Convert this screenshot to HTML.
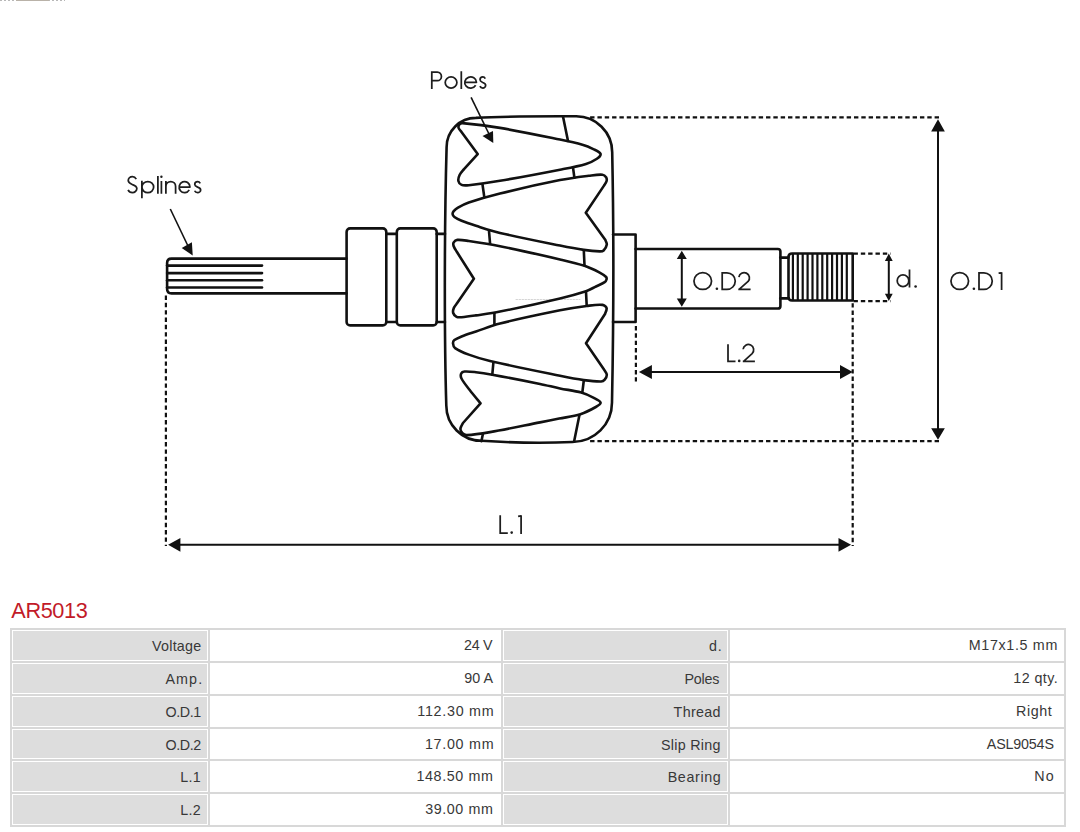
<!DOCTYPE html>
<html>
<head>
<meta charset="utf-8">
<style>
html,body{margin:0;padding:0;background:#fff;}
body{width:1080px;height:832px;position:relative;overflow:hidden;font-family:"Liberation Sans",sans-serif;}
#draw{position:absolute;left:0;top:0;}
#title{position:absolute;left:11.3px;top:596.8px;font-size:21.7px;line-height:28px;color:#c21a28;letter-spacing:-0.38px;}
#tbl{position:absolute;left:10px;top:628px;width:1056px;height:199px;background:#d8d8d8;}
.c{position:absolute;box-sizing:border-box;font-size:14.3px;color:#383838;text-align:right;white-space:pre;}
.l{background:#dddddd;border:1px solid #fff;}
.v{background:#fff;}
</style>
</head>
<body>
<svg id="draw" width="1080" height="600" viewBox="0 0 1080 600">
<g fill="none" stroke="#111" stroke-width="2.6" stroke-linejoin="round" stroke-linecap="round">
<path d="M346.5 258.6 H171.5 Q167.1 258.6 167.1 263 V289 Q167.1 293.4 171.5 293.4 H346.5"/>
<line x1="167.1" y1="265.6" x2="262" y2="265.6"/>
<line x1="167.1" y1="273.1" x2="262" y2="273.1"/>
<line x1="167.1" y1="280.3" x2="262" y2="280.3"/>
<line x1="167.1" y1="287.5" x2="262" y2="287.5"/>
<rect x="346.6" y="228.4" width="39.7" height="97" rx="3.5"/>
<rect x="396.8" y="228.4" width="39.9" height="97" rx="3.5"/>
<path d="M386.3 233.9 H396.8 M386.3 322 H396.8"/>
<path d="M436.7 233.9 H445 M436.7 322 H445"/>
<path d="M475.9 117.9 C500 116.5 550 116.2 576 116.3 A36 36 0 0 1 612.2 152.3 C613.4 210 614 300 612 402.5 A39.5 39.5 0 0 1 572.5 442 C545 443.3 515 443 481.6 440.8 A35.3 35.3 0 0 1 446.3 405.5 C444.3 340 444.3 230 446.6 147.2 A29.3 29.3 0 0 1 475.9 117.9 Z"/>
<path d="M516 299.5 H580" stroke="#d5d5d5" stroke-width="1" stroke-dasharray="1.5 1.5"/>
<path d="M613 234.5 H635.6 V322 H613"/>
<path d="M635.6 249 H777.8 Q780.4 249 780.4 251.6 V305.9 Q780.4 308.5 777.8 308.5 H635.6"/>
<path d="M780.2 257.6 H788.5 M780.2 298.4 H788.5"/>
<path d="M852.7 253.5 H792 Q788.5 253.5 788.5 257 V297 Q788.5 300.5 792 300.5 H852.7 Z"/>
</g>
<g stroke="#111" stroke-width="2.2">
<line x1="792.90" y1="254" x2="792.90" y2="300"/>
<line x1="797.80" y1="254" x2="797.80" y2="300"/>
<line x1="802.70" y1="254" x2="802.70" y2="300"/>
<line x1="807.60" y1="254" x2="807.60" y2="300"/>
<line x1="812.50" y1="254" x2="812.50" y2="300"/>
<line x1="817.40" y1="254" x2="817.40" y2="300"/>
<line x1="822.30" y1="254" x2="822.30" y2="300"/>
<line x1="827.20" y1="254" x2="827.20" y2="300"/>
<line x1="832.10" y1="254" x2="832.10" y2="300"/>
<line x1="837.00" y1="254" x2="837.00" y2="300"/>
<line x1="841.90" y1="254" x2="841.90" y2="300"/>
<line x1="846.80" y1="254" x2="846.80" y2="300"/>
</g>
<g fill="none" stroke="#111" stroke-width="2.6" stroke-linejoin="round" stroke-linecap="round">
<path d="M463.8 169.4 L477.7 154.1 L461.5 132 C461.02 131.33 459.00 129.45 458.60 128.00 C458.30 126.92 458.72 125.25 459.40 124.40 C460.02 123.62 461.39 123.00 462.50 123.10 C474.93 124.17 487.58 125.80 500.00 127.90 C520.08 131.30 540.04 135.51 560.00 139.60 C567.51 141.14 575.05 142.70 582.40 144.80 C586.15 145.87 589.82 147.37 593.30 149.10 C595.85 150.37 599.80 151.92 600.50 153.80 C601.00 155.15 598.54 157.66 596.90 158.80 C593.70 161.03 589.83 162.77 586.00 163.90 C577.53 166.40 568.71 167.99 560.00 169.70 C540.05 173.62 520.05 177.39 500.00 180.80 C489.65 182.56 479.22 184.09 468.80 185.20 C466.42 185.45 463.63 185.74 461.60 184.90 C460.16 184.30 458.71 182.42 458.40 180.90 C458.04 179.12 458.77 176.77 459.60 175.00 C460.57 172.94 463.10 170.33 463.80 169.40"/>
<path d="M604 185.6 L585.8 212.8 L605.4 240 C605.47 240.75 607.02 243.06 606.80 244.50 C606.49 246.56 605.09 249.05 603.60 250.50 C602.72 251.35 601.02 251.44 599.70 251.40 C594.42 251.24 589.06 250.67 583.80 249.90 C575.83 248.74 567.90 247.20 560.00 245.60 C539.97 241.54 519.89 237.59 500.00 232.90 C491.89 230.99 483.96 228.31 476.00 225.80 C471.16 224.27 466.29 222.71 461.60 220.80 C459.09 219.78 456.51 218.57 454.40 217.00 C453.51 216.34 452.72 215.11 452.60 214.10 C452.49 213.18 453.06 211.97 453.70 211.20 C454.86 209.80 456.39 208.53 458.00 207.60 C461.43 205.63 465.04 203.76 468.80 202.50 C479.04 199.06 489.49 196.08 500.00 193.50 C519.89 188.61 539.91 184.10 560.00 180.10 C569.51 178.20 579.18 177.02 588.80 175.80 C593.34 175.22 598.14 174.32 602.50 174.70 C603.91 174.82 605.36 176.16 606.10 177.30 C606.72 178.26 606.89 179.85 606.60 181.00 C606.19 182.62 604.43 184.83 604.00 185.60"/>
<path d="M473.9 278.7 L456.8 251.8 C456.27 250.83 454.27 248.03 453.60 246.00 C453.24 244.90 453.14 243.32 453.70 242.40 C454.38 241.28 455.92 240.03 457.30 239.90 C460.95 239.56 464.99 240.44 468.80 241.00 C479.23 242.54 489.67 244.12 500.00 246.20 C520.07 250.25 540.05 254.77 560.00 259.40 C568.22 261.31 576.52 263.15 584.50 265.80 C589.75 267.55 594.79 270.05 599.70 272.60 C601.99 273.79 604.39 275.27 606.10 277.00 C606.66 277.57 606.70 278.74 606.50 279.50 C606.24 280.47 605.58 281.62 604.70 282.20 C602.08 283.95 598.91 285.10 596.00 286.50 C592.68 288.10 589.49 290.05 586.00 291.20 C577.49 294.01 568.75 296.33 560.00 298.40 C540.08 303.13 520.06 307.54 500.00 311.60 C492.06 313.21 484.01 314.23 476.00 315.40 C471.21 316.10 466.41 316.83 461.60 317.20 C459.94 317.33 457.98 317.59 456.60 316.90 C455.18 316.19 453.67 314.50 453.20 313.00 C452.74 311.54 453.21 309.52 453.80 308.00 C454.47 306.29 456.47 304.08 457.00 303.30 L473.9 278.7"/>
<path d="M605 314 L586 343.3 L604 369.5 C604.47 370.38 606.68 373.00 606.80 374.80 C606.91 376.40 605.78 378.43 604.70 379.70 C603.88 380.66 602.41 381.47 601.10 381.50 C595.44 381.61 589.52 380.89 583.80 380.10 C575.82 378.99 567.90 377.41 560.00 375.80 C536.63 371.04 513.21 366.40 490.00 361.00 C482.81 359.33 475.71 357.15 468.80 354.60 C464.07 352.85 459.03 350.89 455.10 348.10 C453.77 347.15 453.14 344.97 453.00 343.40 C452.90 342.31 453.52 340.81 454.40 340.10 C456.38 338.51 459.11 337.49 461.60 336.50 C466.31 334.62 471.19 333.13 476.00 331.50 C483.99 328.80 491.83 325.56 500.00 323.50 C519.83 318.49 539.93 314.35 560.00 310.30 C568.83 308.52 577.77 307.14 586.70 306.00 C591.93 305.34 597.52 304.35 602.50 304.90 C604.15 305.08 606.21 306.78 606.60 308.20 C607.04 309.82 605.27 313.03 605.00 314.00"/>
<path d="M480.5 403.3 L463 423 C462.57 423.98 460.49 426.94 460.40 428.90 C460.33 430.38 461.41 432.24 462.50 433.30 C463.54 434.31 465.28 435.17 466.80 435.10 C474.44 434.77 482.32 433.43 490.00 432.10 C506.72 429.20 523.34 425.65 540.00 422.40 C546.40 421.15 552.81 419.90 559.20 418.60 C566.27 417.16 573.57 416.37 580.40 414.20 C585.77 412.50 590.92 409.78 595.80 407.00 C597.65 405.95 600.89 404.02 600.60 402.70 C600.22 400.99 596.25 399.18 593.80 397.90 C589.81 395.81 585.63 393.82 581.30 392.60 C574.37 390.65 567.08 389.89 560.00 388.40 C553.31 386.99 546.70 385.26 540.00 383.90 C524.13 380.69 508.23 377.61 492.30 374.70 C486.89 373.71 481.46 372.83 476.00 372.20 C472.19 371.76 468.20 371.18 464.50 371.50 C463.26 371.61 461.64 372.48 461.20 373.50 C460.64 374.82 460.76 377.06 461.50 378.50 C463.59 382.56 466.84 386.26 469.70 390.00 C473.17 394.53 478.70 401.08 480.50 403.30"/>
<line x1="563" y1="116.5" x2="568" y2="141"/>
<line x1="573" y1="167.5" x2="574.4" y2="177.6"/>
<line x1="482.5" y1="184.5" x2="484.3" y2="197.1"/>
<line x1="583.8" y1="250.3" x2="584.5" y2="265.4"/>
<line x1="489" y1="231.2" x2="490.1" y2="243.8"/>
<line x1="586" y1="291.6" x2="586.7" y2="305.6"/>
<line x1="494.4" y1="313.3" x2="494.4" y2="324.1"/>
<line x1="493.4" y1="362.5" x2="492.3" y2="374.7"/>
<line x1="583.8" y1="380.5" x2="582.3" y2="392.6"/>
<line x1="483" y1="433.6" x2="481.4" y2="441.2"/>
<line x1="579.4" y1="415.2" x2="574.1" y2="441.4"/>
</g>
<g fill="none" stroke="#111" stroke-width="2.2" stroke-dasharray="4.4 2.93">
<path d="M590.1 117.4 H939.5"/>
<path d="M590.1 441.1 H939.5"/>
<path d="M165.9 295.5 V546"/>
<path d="M852.7 303.2 V546"/>
<path d="M635.9 326.0 V381.5"/>
<path d="M853.5 253.6 H890.6 M853.5 301.1 H890.6"/>
</g>
<g stroke="#111" stroke-width="2.0"><line x1="938" y1="128" x2="938" y2="432"/><line x1="681.8" y1="256" x2="681.8" y2="301"/><line x1="888.8" y1="258" x2="888.8" y2="297"/><line x1="648" y1="372" x2="845" y2="372"/><line x1="176" y1="544.8" x2="843" y2="544.8"/></g>
<g fill="#111" stroke="none">
<path d="M938 119.3 L944.85 131.5 L931.15 131.5 Z M938 439.8 L944.85 428.3 L931.15 428.3 Z"/>
<path d="M681.8 250.8 L686.8 259 L676.8 259 Z M681.8 306.8 L686.8 298.6 L676.8 298.6 Z"/>
<path d="M888.8 253.6 L892.7 261 L884.9 261 Z M888.8 301.1 L892.7 293.8 L884.9 293.8 Z"/>
<path d="M638.9 372 L651.9 365 L651.9 379 Z M852.7 372 L840 365 L840 379 Z"/>
<path d="M168.1 544.8 L180.4 537.95 L180.4 551.65 Z M851.1 544.8 L838.5 537.95 L838.5 551.65 Z"/>
</g>
<g stroke="#111" stroke-width="1.6" fill="#111">
<line x1="170.3" y1="209" x2="188" y2="246"/>
<path d="M192.7 255.6 L181.7 248.1 L191.9 242.2 Z" stroke="none"/>
<line x1="471.1" y1="97.3" x2="489" y2="134"/>
<path d="M493.3 142.9 L482.5 136 L493 130.9 Z" stroke="none"/>
</g>
<g fill="none" stroke="#1e1e1e" stroke-width="1.75" stroke-linecap="butt" stroke-linejoin="round">
<path aria-label="Splines" d="M136.25 179.13 C135.13 177.03 133.84 176.55 132.55 176.55 C129.80 176.55 128.25 178.48 128.25 180.58 C128.25 183.15 130.83 183.80 132.55 184.60 C135.99 185.89 136.85 187.18 136.85 188.62 C136.85 191.04 134.44 192.65 132.55 192.65 C130.40 192.65 128.85 191.68 128.08 189.91 M141.9 180.7 V198.3 M141.95 187.10 A5.85 5.6 0 1 1 153.65 187.10 A5.85 5.6 0 1 1 141.95 187.10 M157.9 176.1 V193.7 M161.4 181.1 V193.7 M165.9 181.1 V193.7 M165.9 186.4 A4.85 4.85 0 0 1 175.6 186.4 V193.7 M179.15 187.10 H189.95 A5.4 5.55 0 1 0 189.23 189.88 M200.24 183.33 C199.47 181.88 198.58 181.55 197.70 181.55 C195.81 181.55 194.75 182.88 194.75 184.33 C194.75 186.10 196.52 186.55 197.70 187.10 C200.06 187.99 200.65 188.88 200.65 189.88 C200.65 191.54 199.00 192.65 197.70 192.65 C196.22 192.65 195.16 191.98 194.63 190.76"/>
<path aria-label="Poles" d="M431.8 71.2 V88.9 M431.8 72.05 H437.3 A4.33 4.33 0 0 1 437.3 80.7 H431.8 M445.20 82.50 A5.85 5.55 0 1 1 456.90 82.50 A5.85 5.55 0 1 1 445.20 82.50 M461.3 71.2 V88.9 M464.75 82.30 H476.45 A5.85 5.55 0 1 0 475.67 85.28 M485.26 78.73 C484.53 77.28 483.69 76.95 482.85 76.95 C481.06 76.95 480.05 78.28 480.05 79.72 C480.05 81.50 481.73 81.94 482.85 82.50 C485.09 83.39 485.65 84.28 485.65 85.28 C485.65 86.94 484.08 88.05 482.85 88.05 C481.45 88.05 480.44 87.38 479.94 86.16"/>
<path aria-label="O.D2" d="M693.95 281.10 A8.8 8.35 0 1 1 711.55 281.10 A8.8 8.35 0 1 1 693.95 281.10 M722.2 271.9 V290.3 M722.2 272.75 H726.90 A8.35 8.35 0 0 1 726.90 289.45 H722.2 M738.90 277.15 A5.3 5.3 0 1 1 748.11 281.46 L739.10 289.45 M738.30 289.45 H750.60"/>
<path aria-label="O.D1" d="M950.95 281.10 A8.8 8.35 0 1 1 968.55 281.10 A8.8 8.35 0 1 1 950.95 281.10 M979 271.9 V290.3 M979 272.75 H983.90 A8.35 8.35 0 0 1 983.90 289.45 H979 M998.6 273.2 L1001.6 272.9 M1001.6 272.2 V290"/>
<path aria-label="d." d="M897.20 280.75 A5.8 5.8 0 1 1 908.80 280.75 A5.8 5.8 0 1 1 897.20 280.75 M909.5 269.4 V287.4"/>
<path aria-label="L.2" d="M728 344.2 V361.3 M727.15 361.3 H735.5 M743.10 349.25 A5.3 5.3 0 1 1 752.11 353.56 L743.60 361.3 M742.80 361.3 H754.90"/>
<path aria-label="L.1" d="M500.2 515.2 V533.2 M499.35 533.2 H507.8 M518.1 516.4 L521.1 515.8 M521.1 515.3 V534.1"/>
</g>
<g fill="#1e1e1e"><circle cx="161.4" cy="176.8" r="1.2"/><circle cx="716.9" cy="288.8" r="1.3"/><circle cx="973.9" cy="288.8" r="1.3"/><circle cx="915.6" cy="286.5" r="1.3"/><circle cx="739.2" cy="360.9" r="1.3"/><circle cx="511.7" cy="532.6" r="1.3"/></g>
</svg>
<div id="art" style="position:absolute;left:0;top:0;width:65px;height:1px;background:repeating-linear-gradient(90deg,#b8b8b8 0 2px,transparent 2px 4px);"></div><div style="position:absolute;left:16px;top:0;width:33px;height:1px;background:#b9b2a8;"></div>
<div id="title">AR5013</div>
<div id="tbl">
<div class="c l" id="c0_0" style="left:2px;top:2px;width:196px;height:31px;padding-right:5.47px;letter-spacing:0.267px;line-height:31px">Voltage</div>
<div class="c v" id="c0_1" style="left:200px;top:2px;width:291px;height:31px;padding-right:8.70px;letter-spacing:-0.300px;line-height:31px">24 V</div>
<div class="c l" id="c0_2" style="left:493px;top:2px;width:225px;height:31px;padding-right:4.60px;letter-spacing:0.800px;line-height:31px">d.</div>
<div class="c v" id="c0_3" style="left:720px;top:2px;width:334px;height:31px;padding-right:6.06px;letter-spacing:0.656px;line-height:31px">M17x1.5 mm</div>
<div class="c l" id="c1_0" style="left:2px;top:35px;width:196px;height:31px;padding-right:3.73px;letter-spacing:1.133px;line-height:31px">Amp.</div>
<div class="c v" id="c1_1" style="left:200px;top:35px;width:291px;height:31px;padding-right:8.03px;letter-spacing:0.033px;line-height:31px">90 A</div>
<div class="c l" id="c1_2" style="left:493px;top:35px;width:225px;height:31px;padding-right:7.80px;letter-spacing:-0.200px;line-height:31px">Poles</div>
<div class="c v" id="c1_3" style="left:720px;top:35px;width:334px;height:31px;padding-right:5.83px;letter-spacing:0.425px;line-height:31px">12 qty.</div>
<div class="c l" id="c2_0" style="left:2px;top:68px;width:196px;height:31px;padding-right:6.20px;letter-spacing:-0.400px;line-height:31px">O.D.1</div>
<div class="c v" id="c2_1" style="left:200px;top:68px;width:291px;height:31px;padding-right:6.73px;letter-spacing:0.725px;line-height:31px">112.30 mm</div>
<div class="c l" id="c2_2" style="left:493px;top:68px;width:225px;height:31px;padding-right:6.30px;letter-spacing:0.300px;line-height:31px">Thread</div>
<div class="c v" id="c2_3" style="left:720px;top:68px;width:334px;height:31px;padding-right:7.00px;letter-spacing:0.600px;line-height:31px">Right </div>
<div class="c l" id="c3_0" style="left:2px;top:101px;width:196px;height:30px;padding-right:6.20px;letter-spacing:-0.400px;line-height:30px">O.D.2</div>
<div class="c v" id="c3_1" style="left:200px;top:101px;width:291px;height:30px;padding-right:6.73px;letter-spacing:0.729px;line-height:30px">17.00 mm</div>
<div class="c l" id="c3_2" style="left:493px;top:101px;width:225px;height:30px;padding-right:6.29px;letter-spacing:0.287px;line-height:30px">Slip Ring</div>
<div class="c v" id="c3_3" style="left:720px;top:101px;width:334px;height:30px;padding-right:6.43px;letter-spacing:-0.171px;line-height:30px">ASL9054S </div>
<div class="c l" id="c4_0" style="left:2px;top:133px;width:196px;height:31px;padding-right:5.95px;letter-spacing:0.350px;line-height:31px">L.1</div>
<div class="c v" id="c4_1" style="left:200px;top:133px;width:291px;height:31px;padding-right:7.60px;letter-spacing:0.600px;line-height:31px">148.50 mm</div>
<div class="c l" id="c4_2" style="left:493px;top:133px;width:225px;height:31px;padding-right:5.63px;letter-spacing:0.633px;line-height:31px">Bearing</div>
<div class="c v" id="c4_3" style="left:720px;top:133px;width:334px;height:31px;padding-right:4.00px;letter-spacing:1.200px;line-height:31px">No </div>
<div class="c l" id="c5_0" style="left:2px;top:166px;width:196px;height:31px;padding-right:5.95px;letter-spacing:0.350px;line-height:31px">L.2</div>
<div class="c v" id="c5_1" style="left:200px;top:166px;width:291px;height:31px;padding-right:7.59px;letter-spacing:0.586px;line-height:31px">39.00 mm</div>
<div class="c l" id="c5_2" style="left:493px;top:166px;width:225px;height:31px;padding-right:6.00px;letter-spacing:0.000px;line-height:31px"></div>
<div class="c v" id="c5_3" style="left:720px;top:166px;width:334px;height:31px;padding-right:6.00px;letter-spacing:0.000px;line-height:31px"></div>
</div>
</body>
</html>
